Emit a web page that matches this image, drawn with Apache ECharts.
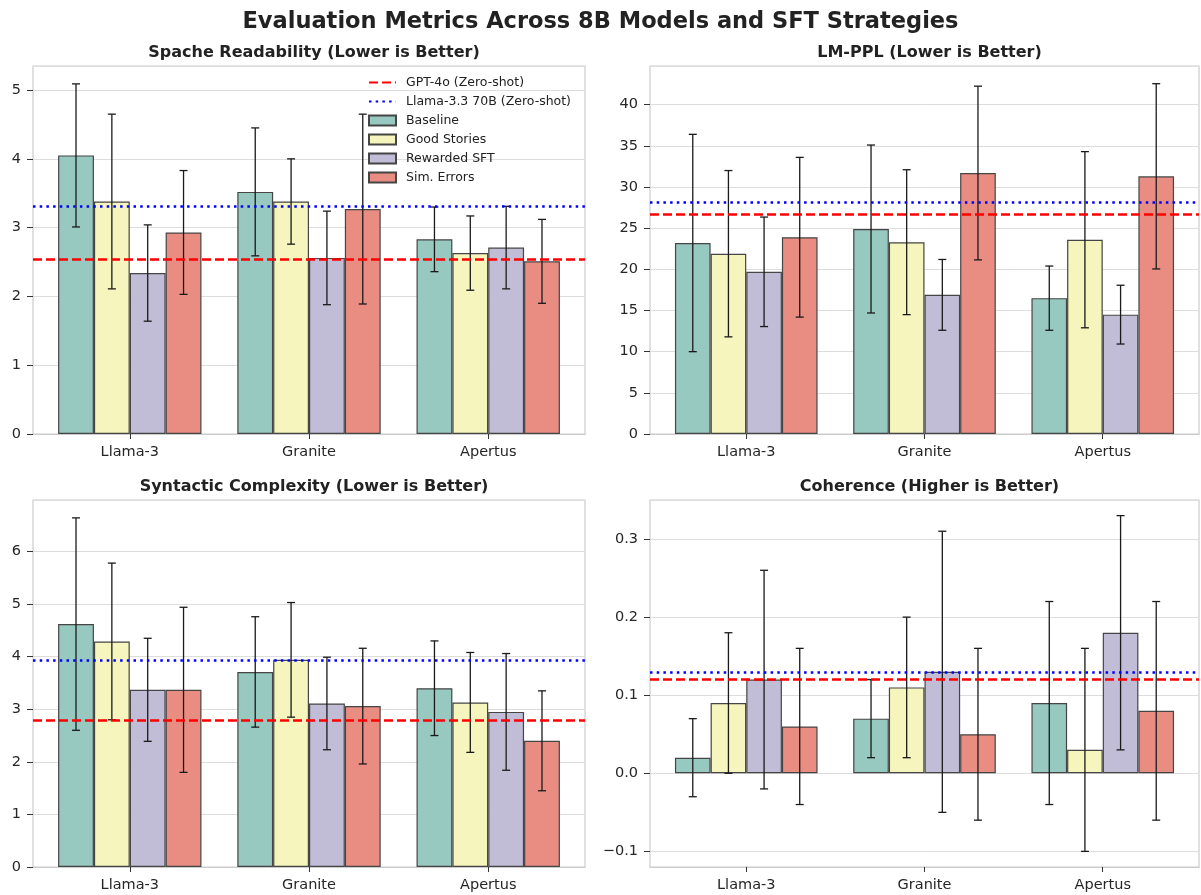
<!DOCTYPE html>
<html>
<head>
<meta charset="utf-8">
<script src="https://cdn.jsdelivr.net/npm/echarts@6/dist/echarts.min.js"></script>
<style>
    html, body { margin: 0; padding: 0; background: #ffffff; }
    #main { width: 1201px; height: 895px; }
</style>
</head>
<body>
<div id="main"></div>
<script>
var categories = ['Llama-3', 'Granite', 'Apertus'];
var strategies = ['Baseline', 'Good Stories', 'Rewarded SFT', 'Sim. Errors'];
var strategyColors = ['#97c9c0', '#f5f5bd', '#c1bdd6', '#e98d83'];
var gptName = 'GPT-4o (Zero-shot)';
var llamaName = 'Llama-3.3 70B (Zero-shot)';

// one row per strategy, one value per model
var spacheMeans = [[4.05, 3.52, 2.83], [3.38, 3.38, 2.63], [2.34, 2.56, 2.71], [2.93, 3.27, 2.51]];
var spacheErrs = [[1.04, 0.93, 0.47], [1.27, 0.62, 0.54], [0.70, 0.68, 0.60], [0.90, 1.38, 0.61]];
var spacheRefs = [2.54, 3.31];

var pplMeans = [[23.2, 24.9, 16.5], [21.9, 23.3, 23.6], [19.7, 16.9, 14.5], [23.9, 31.7, 31.3]];
var pplErrs = [[13.2, 10.2, 3.9], [10.1, 8.8, 10.7], [6.65, 4.3, 3.57], [9.7, 10.55, 11.25]];
var pplRefs = [26.75, 28.1];

var syntaxMeans = [[4.62, 3.71, 3.40], [4.29, 3.94, 3.13], [3.37, 3.11, 2.95], [3.37, 3.06, 2.40]];
var syntaxErrs = [[2.02, 1.05, 0.90], [1.49, 1.09, 0.95], [0.98, 0.88, 1.11], [1.57, 1.10, 0.95]];
var syntaxRefs = [2.80, 3.94];

var cohMeans = [[0.02, 0.07, 0.09], [0.09, 0.11, 0.03], [0.12, 0.13, 0.18], [0.06, 0.05, 0.08]];
var cohErrs = [[0.05, 0.05, 0.13], [0.09, 0.09, 0.13], [0.14, 0.18, 0.15], [0.10, 0.11, 0.14]];
var cohRefs = [0.12, 0.13];

var panels = [
    { title: 'Spache Readability (Lower is Better)', means: spacheMeans, errs: spacheErrs, refs: spacheRefs,
      min: 0, max: 5.35, interval: 1, grid: { left: 33, top: 66, width: 552, height: 368 } },
    { title: 'LM-PPL (Lower is Better)', means: pplMeans, errs: pplErrs, refs: pplRefs,
      min: 0, max: 44.7, interval: 5, grid: { left: 650, top: 66, width: 549, height: 368 } },
    { title: 'Syntactic Complexity (Lower is Better)', means: syntaxMeans, errs: syntaxErrs, refs: syntaxRefs,
      min: 0, max: 6.98, interval: 1, grid: { left: 33, top: 500, width: 552, height: 367 } },
    { title: 'Coherence (Higher is Better)', means: cohMeans, errs: cohErrs, refs: cohRefs,
      min: -0.12, max: 0.35, interval: null, decimals: 1, grid: { left: 650, top: 500, width: 549, height: 367 } }
];

var font = 'DejaVu Sans, sans-serif';
// x range like matplotlib: 4 bars of 0.2 around each model, plus 5% margin
var xMin = -0.54, xMax = 2.54, barUnit = 0.2;

var chart = echarts.init(document.getElementById('main'));

var titles = [{
    text: 'Evaluation Metrics Across 8B Models and SFT Strategies',
    left: 'center',
    top: 6,
    textStyle: { fontFamily: font, fontSize: 22.5, fontWeight: 'bold', color: '#222222' }
}];
var grids = [], xAxes = [], yAxes = [], series = [];

panels.forEach(function (p, i) {
    var barW = p.grid.width / (xMax - xMin) * barUnit;

    titles.push({
        text: p.title,
        left: p.grid.left + p.grid.width / 2,
        top: p.grid.top - 26,
        textAlign: 'center',
        textStyle: { fontFamily: font, fontSize: 16, fontWeight: 'bold', color: '#222222' }
    });

    grids.push({
        left: p.grid.left, top: p.grid.top, width: p.grid.width, height: p.grid.height,
        show: true, borderColor: '#cccccc', borderWidth: 1.2, backgroundColor: '#ffffff'
    });

    xAxes.push({
        gridIndex: i,
        type: 'value',
        position: 'bottom',
        min: xMin,
        max: xMax,
        axisLine: { show: true, onZero: false, lineStyle: { color: '#cccccc', width: 1.2 } },
        axisTick: { show: true, inside: false, length: 5, customValues: [0, 1, 2], lineStyle: { color: '#333333', width: 1 } },
        axisLabel: {
            fontFamily: font, fontSize: 14.5, color: '#262626', margin: 11,
            customValues: [0, 1, 2],
            formatter: function (v) { return categories[Math.round(v)]; }
        },
        splitLine: { show: false }
    });

    var yAxis = {
        gridIndex: i,
        type: 'value',
        position: 'left',
        min: p.min,
        max: p.max,
        axisLine: { show: false, onZero: false },
        axisTick: { show: true, length: 6, lineStyle: { color: '#333333' } },
        axisLabel: {
            fontFamily: font, fontSize: 14.5, color: '#262626', margin: 12,
            showMaxLabel: false, showMinLabel: p.min === 0,
            formatter: function (v) {
                var s = p.decimals ? v.toFixed(p.decimals) : String(Math.round(v));
                return s.replace('-', '\u2212');
            }
        },
        splitLine: { show: true, lineStyle: { color: '#dddddd', width: 1 } }
    };
    if (p.interval) {
        yAxis.interval = p.interval;
    } else {
        yAxis.splitNumber = 5;
    }
    yAxes.push(yAxis);

    // bars
    strategies.forEach(function (name, k) {
        series.push({
            name: name,
            type: 'bar',
            xAxisIndex: i,
            yAxisIndex: i,
            data: p.means[k].map(function (m, c) { return [c, m]; }),
            barWidth: barW,
            barGap: '0%',
            itemStyle: { color: strategyColors[k], borderColor: '#454545', borderWidth: 1.2 },
            z: 2
        });
    });

    // error bars
    strategies.forEach(function (name, k) {
        var errData = p.means[k].map(function (m, c) {
            return [c, m, p.errs[k][c]];
        });
        series.push({
            type: 'custom',
            xAxisIndex: i,
            yAxisIndex: i,
            silent: true,
            z: 4,
            data: errData,
            renderItem: function (params, api) {
                var c = api.value(0);
                var m = api.value(1);
                var e = api.value(2);
                var hi = api.coord([c + (k - 1.5) * barUnit, m + e]);
                var lo = api.coord([c + (k - 1.5) * barUnit, m - e]);
                var x = hi[0];
                var st = { stroke: '#1a1a1a', lineWidth: 1.3 };
                return {
                    type: 'group',
                    children: [
                        { type: 'line', shape: { x1: x, y1: hi[1], x2: x, y2: lo[1] }, style: st },
                        { type: 'line', shape: { x1: x - 4, y1: hi[1], x2: x + 4, y2: hi[1] }, style: st },
                        { type: 'line', shape: { x1: x - 4, y1: lo[1], x2: x + 4, y2: lo[1] }, style: st }
                    ]
                };
            }
        });
    });

    // zero-shot reference lines
    series.push({
        name: gptName,
        type: 'line',
        xAxisIndex: i,
        yAxisIndex: i,
        data: [],
        symbol: 'none',
        itemStyle: { color: '#ff0000' },
        lineStyle: { color: '#ff0000', width: 2.5, type: [9, 4] },
        markLine: {
            silent: true,
            symbol: ['none', 'none'],
            label: { show: false },
            lineStyle: { color: '#ff0000', width: 2.5, type: [9, 4] },
            data: [{ yAxis: p.refs[0] }]
        },
        z: 5
    });
    series.push({
        name: llamaName,
        type: 'line',
        xAxisIndex: i,
        yAxisIndex: i,
        data: [],
        symbol: 'none',
        itemStyle: { color: '#0000ff' },
        lineStyle: { color: '#0000ff', width: 2.5, type: [2.5, 4.2] },
        markLine: {
            silent: true,
            symbol: ['none', 'none'],
            label: { show: false },
            lineStyle: { color: '#0000ff', width: 2.5, type: [2.5, 4.2] },
            data: [{ yAxis: p.refs[1] }]
        },
        z: 5
    });
});

var hideSymbol = { color: 'rgba(0,0,0,0)', borderColor: 'rgba(0,0,0,0)', opacity: 0 };

var option = {
    backgroundColor: '#ffffff',
    animation: false,
    title: titles,
    legend: {
        orient: 'vertical',
        left: 363,
        top: 70,
        itemWidth: 27,
        itemHeight: 10,
        itemGap: 4,
        selectedMode: false,
        textStyle: { fontFamily: font, fontSize: 12.5, color: '#222222', lineHeight: 15, padding: [0, 0, 0, 5] },
        data: [
            { name: gptName, itemStyle: hideSymbol },
            { name: llamaName, itemStyle: hideSymbol },
            { name: 'Baseline', icon: 'rect' },
            { name: 'Good Stories', icon: 'rect' },
            { name: 'Rewarded SFT', icon: 'rect' },
            { name: 'Sim. Errors', icon: 'rect' }
        ]
    },
    grid: grids,
    xAxis: xAxes,
    yAxis: yAxes,
    series: series
};

chart.setOption(option);
</script>
</body>
</html>
